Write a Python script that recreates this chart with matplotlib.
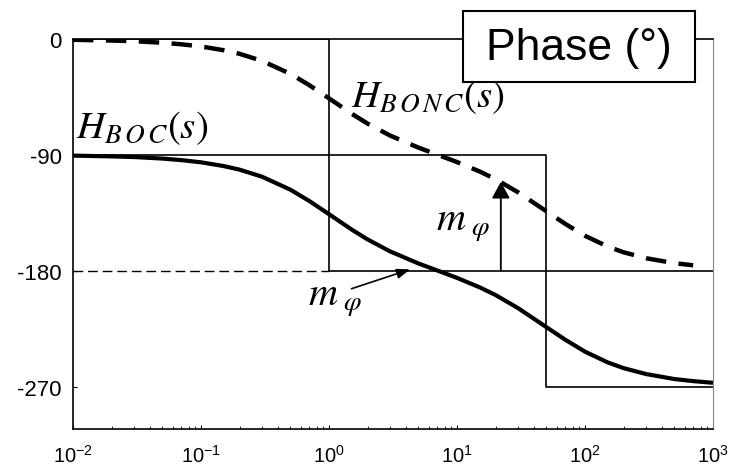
import matplotlib
matplotlib.use("Agg")
import matplotlib.pyplot as plt
from matplotlib.patches import Rectangle

plt.rcParams["font.family"] = ["Liberation Sans", "DejaVu Sans"]
plt.rcParams["mathtext.fontset"] = "custom"
plt.rcParams["mathtext.rm"] = "Liberation Sans"
plt.rcParams["mathtext.it"] = "Liberation Sans:italic"

# phase of open loop (BOC) and of the non-corrected loop (BONC), in degrees
freq = [0.01, 0.02, 0.03, 0.05, 0.07, 0.1, 0.15, 0.2, 0.3, 0.5, 0.7, 1, 1.5, 2, 3,
        5, 7, 10, 15, 20, 30, 50, 70, 100, 150, 200, 300, 500, 700, 1000]
phase_boc = [-90.6, -91.2, -91.7, -92.9, -94.1, -95.8, -98.7, -101.5, -107.0,
             -117.1, -125.8, -136.1, -148.0, -155.7, -165.0, -174.4, -179.8,
             -185.6, -192.9, -198.9, -209.1, -223.9, -233.6, -242.9, -251.2,
             -255.7, -260.3, -264.2, -265.8, -267.1]
phase_bonc = [-0.6, -1.2, -1.7, -2.9, -4.1, -5.8, -8.7, -11.5, -17.0, -27.1,
              -35.8, -46.1, -58.0, -65.7, -75.0, -84.4, -89.8, -95.6, -102.9,
              -108.9, -119.1, -133.9, -143.6, -152.9, -161.2, -165.7, -170.3,
              -174.2, -175.8, -177.1]

# asymptotic (step) phase diagrams, breaks at w = 1 and w = 50
asym_freq = [0.01, 1, 1, 50, 50, 1000]
asym_bonc = [0, 0, -90, -90, -180, -180]
asym_boc = [-90, -90, -180, -180, -270, -270]

ref_freq = [0.01, 1]
ref_phase = [-180, -180]

# phase margin markers
pm_freq = 22
pm_top = -111
pm_cross = (4.3, -179)

yticks = [0, -90, -180, -270]
ytick_labels = ["0", "-90", "-180", "-270"]
xticks = [1e-2, 1e-1, 1e0, 1e1, 1e2, 1e3]
xtick_labels = [r"$10^{-2}$", r"$10^{-1}$", r"$10^{0}$", r"$10^{1}$",
                r"$10^{2}$", r"$10^{3}$"]

fig = plt.figure(figsize=(7.29, 4.77), dpi=100)
ax = fig.add_axes([73 / 729, 1 - 430 / 477, 640 / 729, 390 / 477])
ax.set_xscale("log")
ax.set_xlim(0.01, 1000)
ax.set_ylim(-303, 0)

ax.plot(asym_freq, asym_bonc, color="black", lw=1.2)
ax.plot(asym_freq, asym_boc, color="black", lw=1.2)
ax.plot(ref_freq, ref_phase, color="black", lw=1.0, ls=(0, (7, 3.5)))

ax.plot(freq, phase_boc, color="black", lw=3.0, solid_capstyle="butt")
(dashed,) = ax.plot(freq[:-1], phase_bonc[:-1], color="black", lw=3.2)
dashed.set_dashes((4.6, 2.8))

ax.annotate("", xy=(pm_freq, pm_top), xytext=(pm_freq, -180),
            arrowprops=dict(arrowstyle="-|>,head_length=1.0,head_width=0.55",
                            color="black", lw=1.3, shrinkA=0, shrinkB=0))
ax.annotate("", xy=pm_cross, xytext=(1.5, -194),
            arrowprops=dict(arrowstyle="-|>,head_length=0.8,head_width=0.3",
                            color="black", lw=1.2, shrinkA=0, shrinkB=0))

ax.text(0.0106, -76, r"$H_{B\,O\,C}(s)$", fontsize=28, math_fontfamily="stix",
        va="baseline", ha="left")
ax.text(1.48, -52, r"$H_{B\,O\,N\,C}(s)$", fontsize=28, math_fontfamily="stix",
        va="baseline", ha="left")
ax.text(6.9, -148, r"$m_{\ \varphi}$", fontsize=29, math_fontfamily="stix",
        va="baseline", ha="left")
ax.text(0.68, -206, r"$m_{\ \varphi}$", fontsize=29, math_fontfamily="stix",
        va="baseline", ha="left")

# boxed title sitting on the top frame
ax.add_patch(Rectangle((0.6094, 0.890), 0.3625, 0.182, transform=ax.transAxes,
                       facecolor="white", edgecolor="black", lw=1.5,
                       clip_on=False, zorder=5))
ax.text(0.791, 0.978, "Phase (°)", transform=ax.transAxes, fontsize=32,
        ha="center", va="center", zorder=6)

ax.set_yticks(yticks)
ax.set_yticklabels(ytick_labels, fontsize=16)
ax.set_xticks(xticks)
ax.set_xticklabels(xtick_labels, fontsize=14.5)
ax.tick_params(axis="both", which="major", direction="in", length=3,
               width=0.8)
ax.tick_params(axis="x", which="major", pad=11)
ax.tick_params(axis="y", which="major", pad=8)
ax.tick_params(axis="x", which="minor", direction="in", length=2, width=0.6)

for side in ["left", "bottom", "top"]:
    ax.spines[side].set_linewidth(1.2)
ax.spines["right"].set_linewidth(0.8)
ax.spines["right"].set_color("#888888")

fig.savefig("out.png", dpi=100)
